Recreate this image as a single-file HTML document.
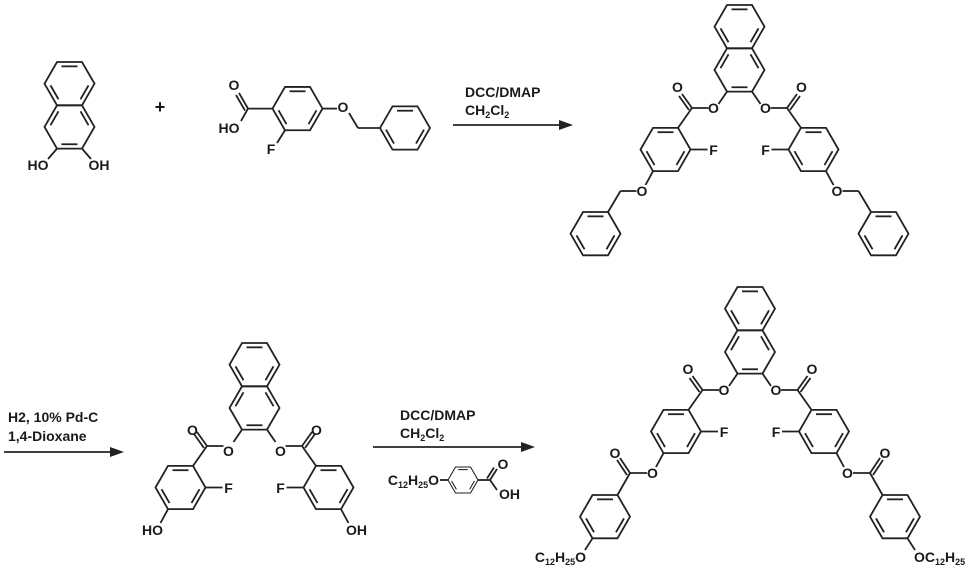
<!DOCTYPE html>
<html><head><meta charset="utf-8"><style>
html,body{margin:0;padding:0;background:#fff;}
svg{display:block;}
text{font-family:"Liberation Sans",Arial,sans-serif;font-weight:bold;font-size:14px;fill:#1a1a1a;}
</style></head><body>
<svg width="980" height="571" viewBox="0 0 980 571" xmlns="http://www.w3.org/2000/svg">
<defs>
<g id="hA" fill="none" stroke="#222" stroke-width="1.8">
<polygon points="-25,0 -12.5,-21.65 12.5,-21.65 25,0 12.5,21.65 -12.5,21.65"/>
<line x1="-8" y1="-17.3" x2="8" y2="-17.3"/>
<line x1="19" y1="1.73" x2="11" y2="15.59"/>
<line x1="-11" y1="15.59" x2="-19" y2="1.73"/>
</g>
<g id="hB" fill="none" stroke="#222" stroke-width="1.8">
<polygon points="-25,0 -12.5,-21.65 12.5,-21.65 25,0 12.5,21.65 -12.5,21.65"/>
<line x1="-19" y1="-1.73" x2="-11" y2="-15.59"/>
<line x1="11" y1="-15.59" x2="19" y2="-1.73"/>
<line x1="-8" y1="17.3" x2="8" y2="17.3"/>
</g>
<g id="naph">
<use href="#hA" transform="translate(0,21.65)"/>
<use href="#hB" transform="translate(0,64.95)"/>
</g>
<g id="half" fill="none" stroke="#222" stroke-width="1.8">
<line x1="-12.5" y1="86.6" x2="-21" y2="99"/>
<line x1="-31" y1="103" x2="-47.5" y2="103"/>
<line x1="-47.5" y1="103" x2="-57.5" y2="89"/>
<line x1="-50.5" y1="105" x2="-60.5" y2="91"/>
<line x1="-47.5" y1="103" x2="-61.5" y2="122.85"/>
<use href="#hA" transform="translate(-74,144.5)"/>
<line x1="-49" y1="144.5" x2="-32" y2="144.5"/>
<line x1="-86.5" y1="166.15" x2="-94" y2="180"/>
</g>
<g id="benzyl" fill="none" stroke="#222" stroke-width="1.8">
<line x1="-103" y1="186" x2="-119" y2="186"/>
<line x1="-119" y1="186" x2="-131.5" y2="207"/>
<use href="#hA" transform="translate(-144,228.65)"/>
</g>
<g id="ester2" fill="none" stroke="#222" stroke-width="1.8">
<line x1="-103" y1="186" x2="-120" y2="186"/>
<line x1="-120" y1="186" x2="-130" y2="171"/>
<line x1="-123" y1="188" x2="-133" y2="173"/>
<line x1="-120" y1="186" x2="-132.5" y2="208"/>
<use href="#hA" transform="translate(-145,229.65)"/>
<line x1="-157.5" y1="251.3" x2="-165" y2="263"/>
</g>
</defs>

<use href="#naph" transform="translate(69.5,62)"/>
<g fill="none" stroke="#222" stroke-width="1.8">
<line x1="57" y1="148.6" x2="48" y2="159"/>
<line x1="82" y1="148.6" x2="91" y2="159"/>
</g>
<text x="38" y="170" text-anchor="middle">HO</text>
<text x="99" y="170" text-anchor="middle">OH</text>

<text x="160" y="113" text-anchor="middle" style="font-size:18px">+</text>

<use href="#hA" transform="translate(297.5,108.6)"/>
<use href="#hA" transform="translate(405,128)"/>
<g fill="none" stroke="#222" stroke-width="1.8">
<line x1="272.5" y1="108.6" x2="248" y2="108.6"/>
<line x1="248" y1="108.6" x2="239" y2="93"/>
<line x1="245" y1="110.6" x2="236" y2="95"/>
<line x1="248" y1="108.6" x2="241" y2="121"/>
<line x1="285" y1="130.25" x2="277" y2="143"/>
<line x1="322.5" y1="108.6" x2="337" y2="108.6"/>
<line x1="349" y1="113" x2="358" y2="128"/>
<line x1="358" y1="128" x2="380" y2="128"/>
</g>
<text x="234" y="90" text-anchor="middle">O</text>
<text x="229" y="133" text-anchor="middle">HO</text>
<text x="271" y="154" text-anchor="middle">F</text>
<text x="343" y="112" text-anchor="middle">O</text>

<line x1="453" y1="125" x2="562" y2="125" stroke="#222" stroke-width="1.8"/>
<polygon points="573,125 559,120 559,130" fill="#222"/>
<text x="465" y="97">DCC/DMAP</text>
<text x="465" y="115">CH<tspan font-size="9" dy="3">2</tspan><tspan dy="-3">Cl</tspan><tspan font-size="9" dy="3">2</tspan></text>

<g transform="translate(739.5,5)">
<use href="#naph"/>
<use href="#half"/><use href="#benzyl"/>
<g transform="scale(-1,1)"><use href="#half"/><use href="#benzyl"/></g>
</g>
<text x="713.5" y="113" text-anchor="middle">O</text>
<text x="765.5" y="113" text-anchor="middle">O</text>
<text x="677.5" y="92" text-anchor="middle">O</text>
<text x="801.5" y="92" text-anchor="middle">O</text>
<text x="713.5" y="155" text-anchor="middle">F</text>
<text x="765.5" y="155" text-anchor="middle">F</text>
<text x="642" y="196" text-anchor="middle">O</text>
<text x="837" y="196" text-anchor="middle">O</text>

<line x1="4" y1="452" x2="113" y2="452" stroke="#222" stroke-width="1.8"/>
<polygon points="124,452 110,447 110,457" fill="#222"/>
<text x="8" y="422">H2, 10% Pd-C</text>
<text x="8" y="441">1,4-Dioxane</text>

<g transform="translate(254.5,343)">
<use href="#naph"/>
<use href="#half"/>
<g transform="scale(-1,1)"><use href="#half"/></g>
</g>
<text x="228.5" y="456" text-anchor="middle">O</text>
<text x="280.5" y="456" text-anchor="middle">O</text>
<text x="192.5" y="435" text-anchor="middle">O</text>
<text x="316.5" y="435" text-anchor="middle">O</text>
<text x="228.5" y="493" text-anchor="middle">F</text>
<text x="280.5" y="493" text-anchor="middle">F</text>
<text x="163" y="535" text-anchor="end">HO</text>
<text x="346" y="535">OH</text>

<line x1="373" y1="447" x2="524" y2="447" stroke="#222" stroke-width="1.8"/>
<polygon points="535,447 521,442 521,452" fill="#222"/>
<text x="400" y="420">DCC/DMAP</text>
<text x="400" y="438">CH<tspan font-size="9" dy="3">2</tspan><tspan dy="-3">Cl</tspan><tspan font-size="9" dy="3">2</tspan></text>
<text x="439" y="485" text-anchor="end">C<tspan font-size="9" dy="3">12</tspan><tspan dy="-3">H</tspan><tspan font-size="9" dy="3">25</tspan><tspan dy="-3">O</tspan></text>
<use href="#hA" transform="translate(463,480) scale(0.6)"/>
<g fill="none" stroke="#222" stroke-width="1.8">
<line x1="440" y1="480" x2="448" y2="480"/>
<line x1="478" y1="480" x2="490" y2="480"/>
<line x1="490" y1="480" x2="497" y2="469"/>
<line x1="487" y1="478.5" x2="494" y2="467.5"/>
<line x1="490" y1="480" x2="497" y2="490"/>
</g>
<text x="503" y="469" text-anchor="middle">O</text>
<text x="499" y="499">OH</text>

<g transform="translate(750,287)">
<use href="#naph"/>
<use href="#half"/><use href="#ester2"/>
<g transform="scale(-1,1)"><use href="#half"/><use href="#ester2"/></g>
</g>
<text x="724" y="395" text-anchor="middle">O</text>
<text x="776" y="395" text-anchor="middle">O</text>
<text x="688" y="374" text-anchor="middle">O</text>
<text x="812" y="374" text-anchor="middle">O</text>
<text x="724" y="437" text-anchor="middle">F</text>
<text x="776" y="437" text-anchor="middle">F</text>
<text x="652.5" y="478" text-anchor="middle">O</text>
<text x="847.5" y="478" text-anchor="middle">O</text>
<text x="615" y="458" text-anchor="middle">O</text>
<text x="885" y="458" text-anchor="middle">O</text>
<text x="586" y="562" text-anchor="end">C<tspan font-size="9" dy="3">12</tspan><tspan dy="-3">H</tspan><tspan font-size="9" dy="3">25</tspan><tspan dy="-3">O</tspan></text>
<text x="914" y="562">OC<tspan font-size="9" dy="3">12</tspan><tspan dy="-3">H</tspan><tspan font-size="9" dy="3">25</tspan></text>
</svg>
</body></html>
